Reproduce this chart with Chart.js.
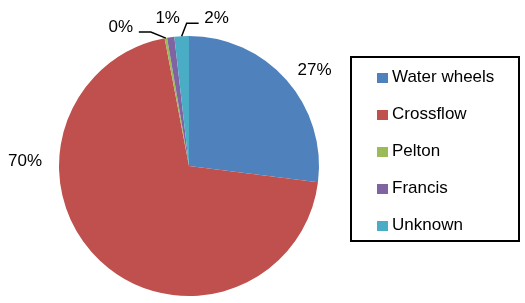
<!DOCTYPE html>
<html><head><meta charset="utf-8">
<script src="https://cdn.jsdelivr.net/npm/chart.js@4/dist/chart.umd.min.js"></script>
<style>
html,body{margin:0;padding:0;background:#fff;}
#wrap{position:relative;width:525px;height:303px;}
#legend{position:absolute;left:350px;top:56px;width:170px;height:186px;border:2px solid #000;box-sizing:border-box;font-family:"Liberation Sans",Arial,sans-serif;font-size:17px;color:#000;}
.item{position:absolute;left:25px;height:20px;line-height:20px;white-space:nowrap;}
.sw{display:inline-block;width:11px;height:10px;margin-right:4px;vertical-align:-1px;}
</style></head>
<body><div id="wrap"><canvas id="c" width="525" height="303"></canvas><div id="legend"></div></div>
<script>
const categories = ["Water wheels","Crossflow","Pelton","Francis","Unknown"];
const shares = [27, 70, 0.3, 0.9, 1.8];
const colors = ["#4F81BD","#C0504D","#9BBB59","#8064A2","#4BACC6"];
// label offsets relative to outer mid-point of each slice; leader: draw leader line
const labelOffsets = [[28,-10],[-75,-99],[-45,-11],[-3,-19],[35,-18]];
const leaders = [false,false,true,false,true];

const lg = document.getElementById('legend');
categories.forEach((c,i)=>{
  const d=document.createElement('div');d.className='item';d.style.top=(9+i*37)+'px';
  d.innerHTML='<span class="sw" style="background:'+colors[i]+'"></span>'+c;
  lg.appendChild(d);
});

const labelPlugin = {
  id:'pieLabels',
  afterDatasetsDraw(chart){
    const ctx=chart.ctx, meta=chart.getDatasetMeta(0);
    ctx.save();
    ctx.font='17px "Liberation Sans", Arial, sans-serif';
    ctx.fillStyle='#000';ctx.textAlign='center';ctx.textBaseline='middle';
    meta.data.forEach((arc,i)=>{
      const mid=(arc.startAngle+arc.endAngle)/2;
      const px=arc.x+Math.cos(mid)*arc.outerRadius, py=arc.y+Math.sin(mid)*arc.outerRadius;
      const lx=px+labelOffsets[i][0], ly=py+labelOffsets[i][1];
      ctx.fillText(Math.round(shares[i])+'%', lx, ly);
      if(leaders[i]){
        ctx.strokeStyle='#000';ctx.lineWidth=1.5;ctx.beginPath();
        const dir=labelOffsets[i][0]<0?1:-1;
        const sx=lx+dir*18, kx=sx+dir*12, ky=ly+5;
        ctx.moveTo(sx,ky);ctx.lineTo(kx,ky);ctx.lineTo(px,py);ctx.stroke();
      }
    });
    ctx.restore();
  }
};

new Chart(document.getElementById('c'),{
  type:'pie',
  data:{labels:categories,datasets:[{data:shares,backgroundColor:colors,borderWidth:0}]},
  options:{
    responsive:false,animation:false,
    layout:{padding:{left:59,right:206,top:36,bottom:7}},
    plugins:{legend:{display:false},tooltip:{enabled:false}}
  },
  plugins:[labelPlugin]
});
</script></body></html>
